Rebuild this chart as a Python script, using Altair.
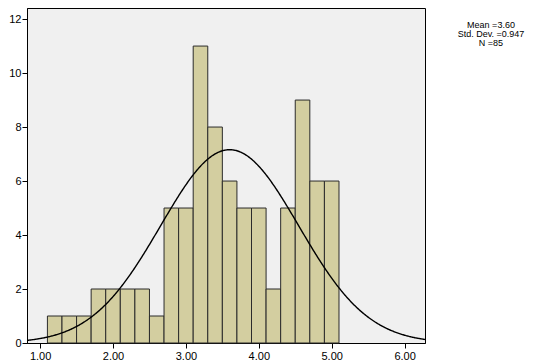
import altair as alt
import pandas as pd

# Histogram data (bin width 0.2)
bin_starts = [1.1, 1.3, 1.5, 1.7, 1.9, 2.1, 2.3, 2.5, 2.7, 2.9,
              3.1, 3.3, 3.5, 3.7, 3.9, 4.1, 4.3, 4.5, 4.7, 4.9]
counts = [1, 1, 1, 2, 2, 2, 2, 1, 5, 5,
          11, 8, 6, 5, 5, 2, 5, 9, 6, 6]
bin_width = 0.2

# Summary statistics shown in the chart
mean_val = 3.60
sd_val = 0.947
n_val = 85

x_ticks = [1, 2, 3, 4, 5, 6]
y_ticks = [0, 2, 4, 6, 8, 10, 12]

FONT = "Liberation Sans"
W, H = 398, 335
X_DOM = [0.82, 6.28]
Y_DOM = [0, 12.41]

bars_df = pd.DataFrame({
    "start": bin_starts,
    "end": [round(s + bin_width, 2) for s in bin_starts],
    "count": counts,
})

xscale = alt.Scale(domain=X_DOM, nice=False, zero=False)
yscale = alt.Scale(domain=Y_DOM, nice=False, zero=True)

xaxis = alt.Axis(values=x_ticks, format=".2f", title=None, grid=False,
                 tickSize=5, labelPadding=2, domainColor="black",
                 tickColor="black", labelColor="black", labelFont=FONT,
                 labelFontSize=11)
yaxis = alt.Axis(values=y_ticks, format="d", title=None, grid=False,
                 tickSize=5, labelPadding=1, domainColor="black",
                 tickColor="black", labelColor="black", labelFont=FONT,
                 labelFontSize=11)

bars = alt.Chart(bars_df).mark_bar(
    color="#d3cea0", stroke="#2b2b2b", strokeWidth=1, opacity=1
).encode(
    x=alt.X("start:Q", scale=xscale, axis=xaxis),
    x2="end:Q",
    y=alt.Y("count:Q", scale=yscale, axis=yaxis),
    y2=alt.Y2(datum=0),
)

scale_factor = n_val * bin_width
curve = alt.Chart(alt.sequence(X_DOM[0], X_DOM[1] + 0.001, 0.01, as_="xv")).transform_calculate(
    yv=f"{scale_factor} / ({sd_val} * sqrt(2 * PI)) * exp(-0.5 * pow((datum.xv - {mean_val}) / {sd_val}, 2))"
).mark_line(color="black", strokeWidth=1.4, clip=True).encode(
    x=alt.X("xv:Q", scale=xscale, axis=xaxis),
    y=alt.Y("yv:Q", scale=yscale, axis=yaxis),
)

stats_text = f"Mean ={mean_val:.2f}\nStd. Dev. ={sd_val:.3f}\nN ={n_val}"
label = alt.Chart(pd.DataFrame({"t": [stats_text]})).mark_text(
    align="center", baseline="top", font=FONT, fontSize=9, color="black",
    lineBreak="\n", lineHeight=9,
).encode(
    text="t:N",
    x=alt.value(W + 66),
    y=alt.value(13),
)

chart = alt.layer(bars, curve, label).properties(
    width=W, height=H,
    background="white",
    padding={"left": 0, "top": 0, "right": 5, "bottom": 5},
).configure_view(
    fill="#f0f0f0", stroke="black", strokeWidth=1
)

chart.save("out.html", embed_options={"renderer": "svg", "actions": False})
